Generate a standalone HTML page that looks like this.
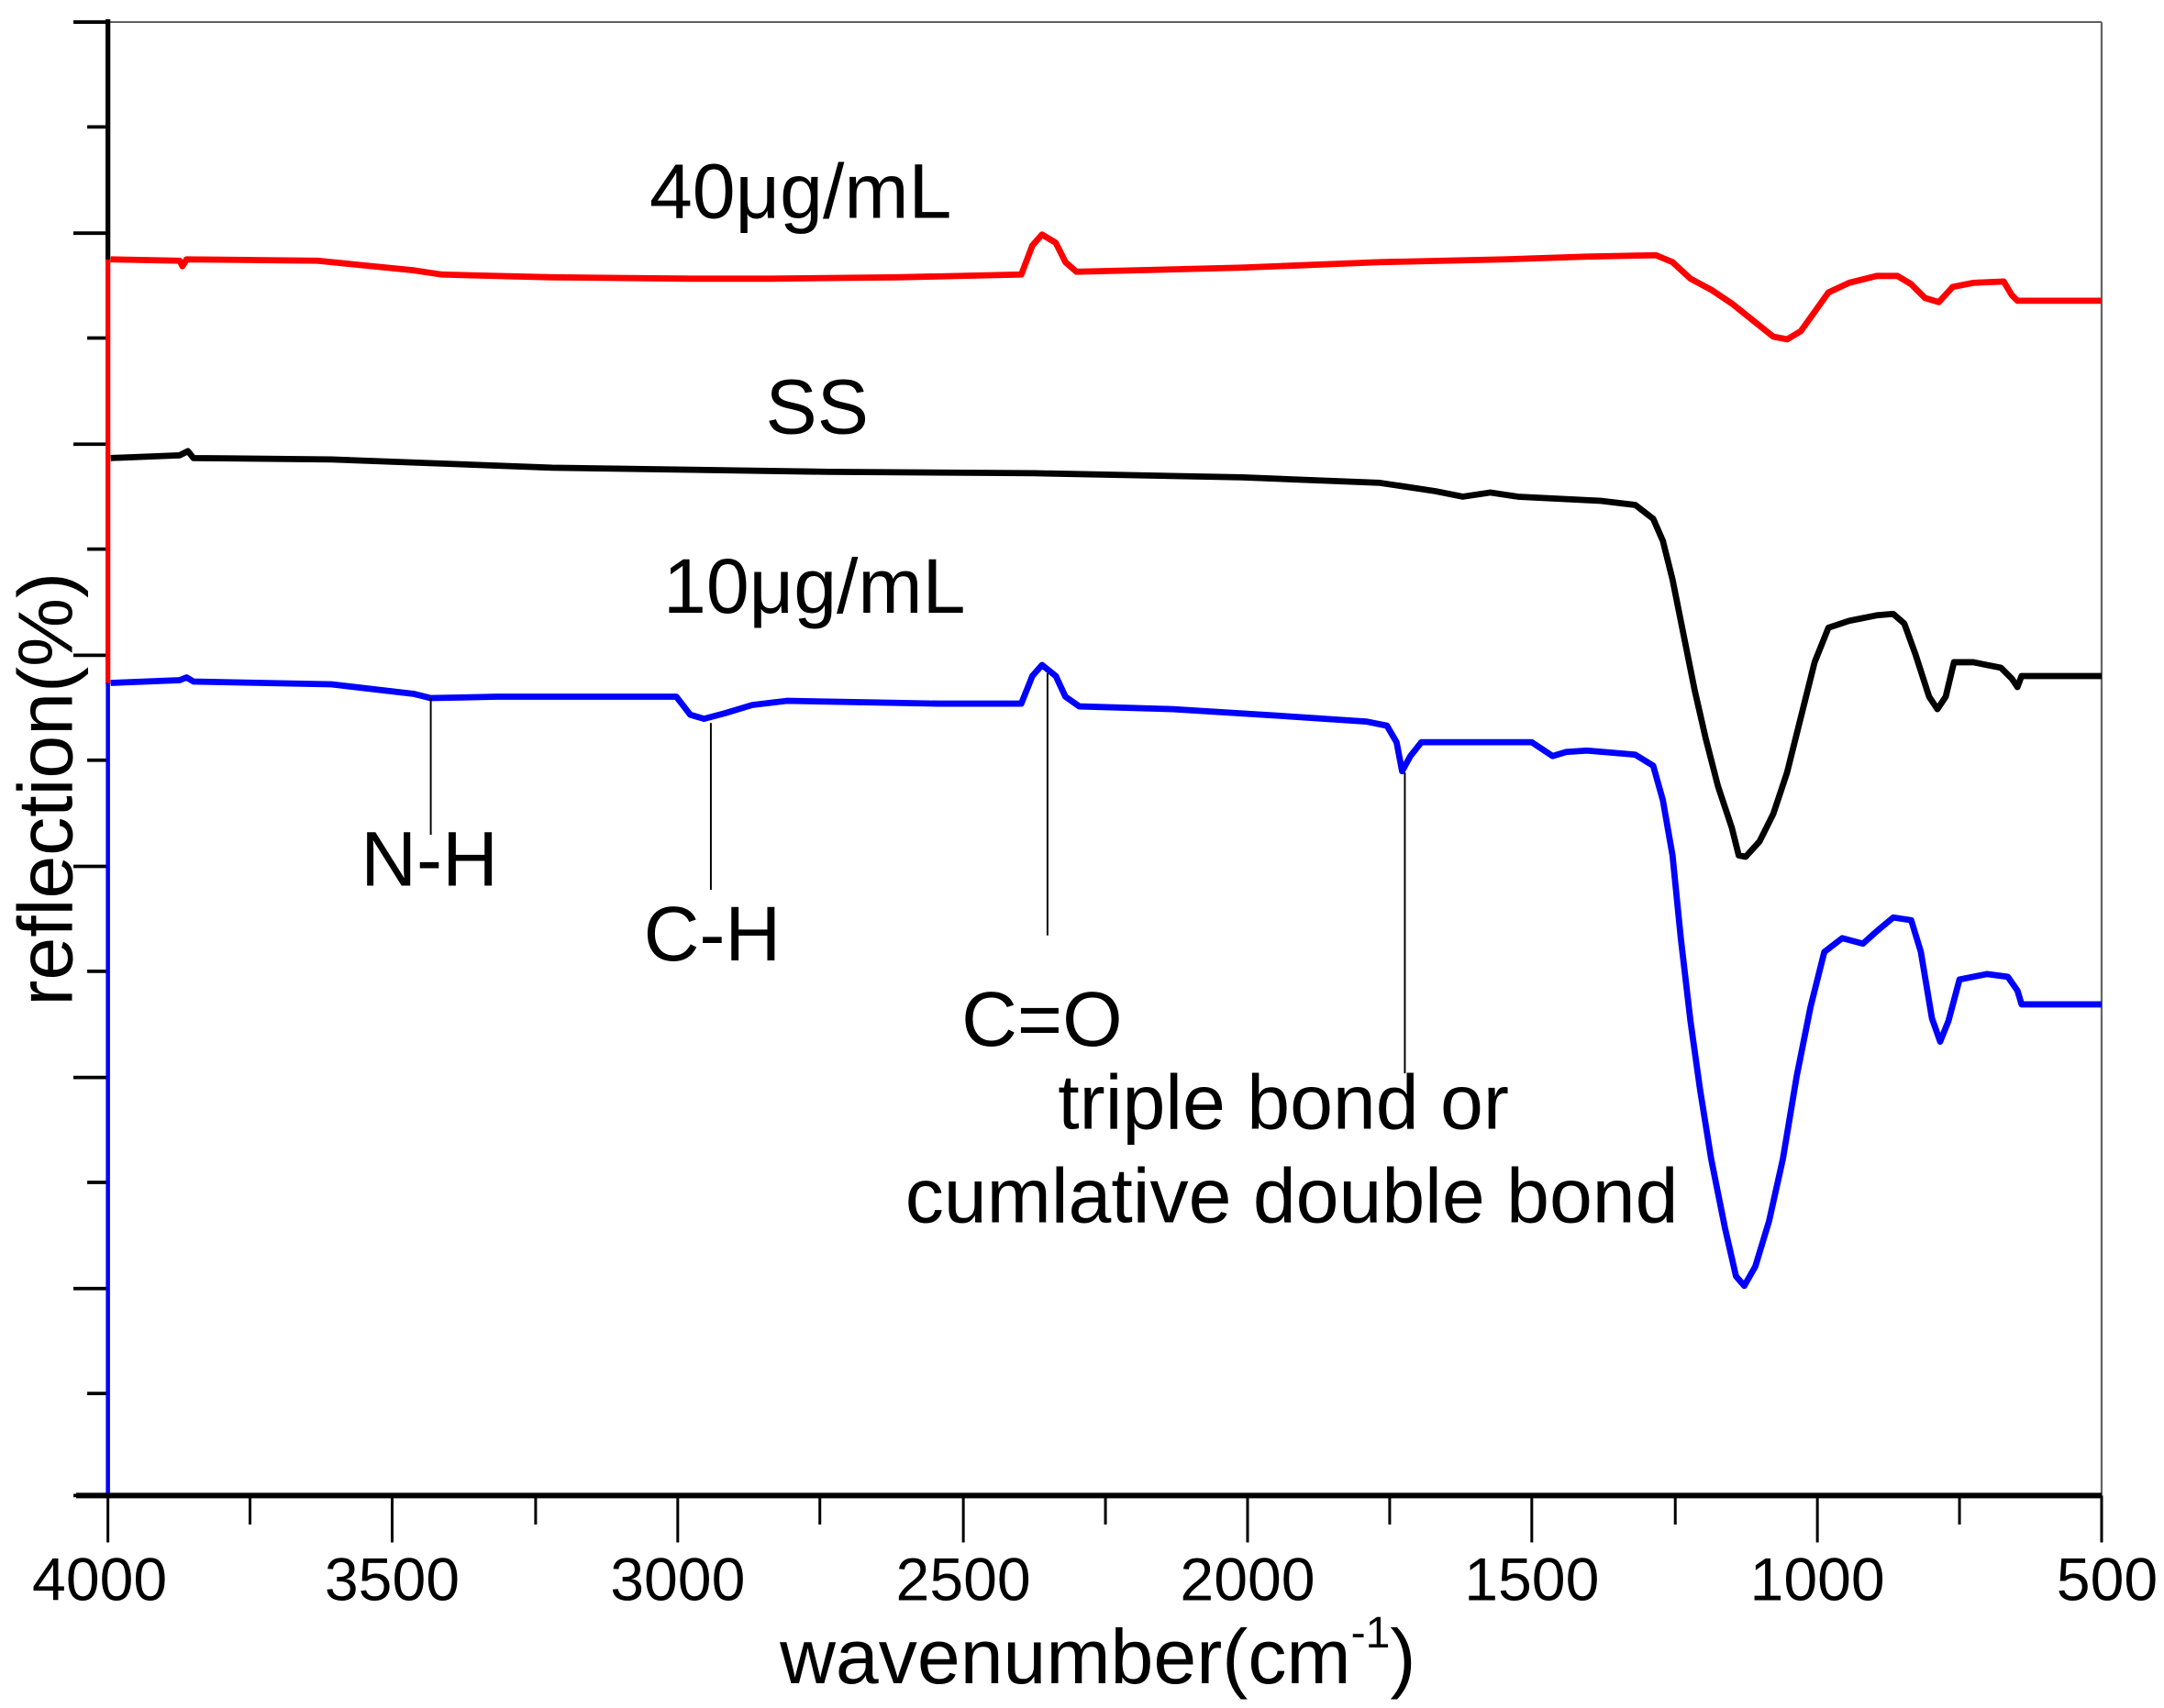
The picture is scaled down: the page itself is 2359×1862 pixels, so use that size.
<!DOCTYPE html>
<html><head><meta charset="utf-8"><style>
html,body{margin:0;padding:0;background:#fff;}
svg{display:block;}
text{font-family:"Liberation Sans",Arial,sans-serif;fill:#000;}
</style></head><body>
<svg width="2359" height="1862" viewBox="0 0 1568 1238" xmlns="http://www.w3.org/2000/svg">
<rect width="1568" height="1238" fill="#fff"/>
<line x1="78" y1="16" x2="1523" y2="16" stroke="#555" stroke-width="1.2"/>
<line x1="1523" y1="16" x2="1523" y2="1084" stroke="#666" stroke-width="1.5"/>
<g stroke="#000" stroke-width="2.5">
<line x1="53" y1="16" x2="78" y2="16"/>
<line x1="63" y1="92" x2="78" y2="92"/>
<line x1="53" y1="169" x2="78" y2="169"/>
<line x1="63" y1="245" x2="78" y2="245"/>
<line x1="53" y1="322" x2="78" y2="322"/>
<line x1="63" y1="398" x2="78" y2="398"/>
<line x1="53" y1="475" x2="78" y2="475"/>
<line x1="63" y1="551" x2="78" y2="551"/>
<line x1="53" y1="628" x2="78" y2="628"/>
<line x1="63" y1="704" x2="78" y2="704"/>
<line x1="53" y1="781" x2="78" y2="781"/>
<line x1="63" y1="857" x2="78" y2="857"/>
<line x1="53" y1="934" x2="78" y2="934"/>
<line x1="63" y1="1010" x2="78" y2="1010"/>
<line x1="53" y1="1084" x2="78" y2="1084"/>
</g>
<line x1="78" y1="14" x2="78" y2="190" stroke="#000" stroke-width="3.5"/>
<line x1="78" y1="188" x2="78" y2="496" stroke="#f00" stroke-width="3.5"/>
<line x1="78" y1="495" x2="78" y2="1084" stroke="#00f" stroke-width="3"/>
<line x1="55" y1="1084" x2="1523" y2="1084" stroke="#000" stroke-width="4"/>
<g stroke="#000" stroke-width="2">
<line x1="78" y1="1084" x2="78" y2="1118"/><line x1="181" y1="1084" x2="181" y2="1105"/>
<line x1="284" y1="1084" x2="284" y2="1118"/><line x1="388" y1="1084" x2="388" y2="1105"/>
<line x1="491" y1="1084" x2="491" y2="1118"/><line x1="594" y1="1084" x2="594" y2="1105"/>
<line x1="698" y1="1084" x2="698" y2="1118"/><line x1="801" y1="1084" x2="801" y2="1105"/>
<line x1="904" y1="1084" x2="904" y2="1118"/><line x1="1007" y1="1084" x2="1007" y2="1105"/>
<line x1="1110" y1="1084" x2="1110" y2="1118"/><line x1="1214" y1="1084" x2="1214" y2="1105"/>
<line x1="1317" y1="1084" x2="1317" y2="1118"/><line x1="1420" y1="1084" x2="1420" y2="1105"/>
<line x1="1523" y1="1084" x2="1523" y2="1118"/>
</g>
<g font-size="44" text-anchor="middle">
<text x="72" y="1160">4000</text><text x="284" y="1160">3500</text><text x="491" y="1160">3000</text>
<text x="698" y="1160">2500</text><text x="904" y="1160">2000</text><text x="1110" y="1160">1500</text>
<text x="1317" y="1160">1000</text><text x="1527" y="1160">500</text>
</g>
<text x="565" y="1220" font-size="56">wavenumber(cm<tspan font-size="32" dy="-26">-1</tspan><tspan dy="26">)</tspan></text>
<text transform="translate(52,572) rotate(-90)" font-size="56" text-anchor="middle">reflection(%)</text>
<polyline fill="none" stroke="#f00" stroke-width="4.5" stroke-linejoin="round" points="80,188 130,189 132,193 135,188 230,189 300,196 320,199 400,201 500,202 560,202 650,201 740,199 748,178 755,170 765,176 772,190 780,197 900,194 1000,190 1090,188 1150,186 1200,185 1212,190 1225,202 1240,210 1255,220 1270,232 1285,244 1295,246 1305,240 1315,226 1325,212 1340,205 1360,200 1375,200 1385,206 1395,216 1405,219 1415,208 1430,205 1452,204 1458,214 1462,218 1523,218"/>
<polyline fill="none" stroke="#000" stroke-width="4.5" stroke-linejoin="round" points="80,332 130,330 136,327 140,332 240,333 400,339 600,342 750,343 900,346 1000,350 1040,356 1060,360 1080,357 1100,360 1160,363 1185,366 1198,376 1205,392 1212,420 1220,460 1228,500 1236,535 1245,570 1255,600 1260,620 1265,621 1275,610 1285,590 1295,560 1305,520 1315,480 1325,455 1340,450 1360,446 1372,445 1380,452 1388,474 1398,505 1404,514 1410,505 1416,480 1430,480 1450,484 1458,492 1462,498 1465,490 1523,490"/>
<polyline fill="none" stroke="#00f" stroke-width="4.5" stroke-linejoin="round" points="80,495 130,493 135,491 140,494 240,496 300,503 312,506 360,505 490,505 500,518 510,521 525,517 545,511 570,508 680,510 740,510 748,490 755,482 765,490 772,505 782,512 850,514 930,519 990,523 1005,526 1012,538 1016,559 1022,548 1030,538 1080,538 1110,538 1125,548 1135,545 1150,544 1185,547 1198,555 1205,580 1212,620 1218,680 1225,740 1232,790 1240,840 1250,890 1258,925 1264,932 1272,918 1282,885 1292,840 1302,780 1312,730 1322,690 1335,680 1350,684 1360,675 1372,665 1385,667 1392,690 1400,738 1406,755 1412,740 1420,710 1440,706 1455,708 1462,718 1465,728 1523,728"/>
<g stroke="#000" stroke-width="1.3">
<line x1="312" y1="506" x2="312" y2="605"/>
<line x1="515" y1="524" x2="515" y2="645"/>
<line x1="759" y1="488" x2="759" y2="678"/>
<line x1="1018" y1="560" x2="1018" y2="778"/>
</g>
<g font-size="56" text-anchor="middle">
<text x="580" y="158">40μg/mL</text>
<text x="592" y="314">SS</text>
<text x="590" y="444">10μg/mL</text>
<text x="311" y="642">N-H</text>
<text x="516" y="696">C-H</text>
<text x="755" y="758">C=O</text>
<text x="930" y="818">triple bond or</text>
<text x="936" y="886">cumlative double bond</text>
</g>
</svg>
</body></html>
